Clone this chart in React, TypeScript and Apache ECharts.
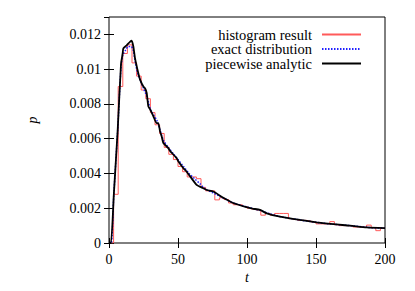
import React, { useEffect, useRef } from "react";
import * as echarts from "echarts";

// Histogram (bin width 10/3 on t in [0,200])
const BIN_WIDTH = 10 / 3;
const histValues = [
  0, 0.0028, 0.009, 0.0109, 0.0114, 0.01036, 0.0096, 0.0088, 0.0083, 0.0075,
  0.0068, 0.0063, 0.0055, 0.0051, 0.0048, 0.0044, 0.0041, 0.0038, 0.0038, 0.0037,
  0.0032, 0.003, 0.003, 0.00248, 0.0026, 0.0025, 0.0023, 0.0022, 0.0022, 0.0021,
  0.002, 0.00195, 0.0019, 0.0016, 0.0017, 0.0016, 0.0017, 0.0017, 0.0017, 0.0014,
  0.00135, 0.0013, 0.0013, 0.00126, 0.0012, 0.0011, 0.0011, 0.0011, 0.00123, 0.00105,
  0.001, 0.001, 0.00098, 0.00092, 0.00092, 0.0009, 0.00103, 0.00088, 0.00071, 0.00085,
];

// Exact distribution
const exactT = [0, 1.5, 3.5, 6.3, 8.7, 10, 12, 14, 16, 17.5, 19, 21, 23, 25, 27.5, 30, 32, 35, 37, 39.5, 43, 47, 50, 54, 58, 62, 66, 70, 75, 80, 85, 90, 100, 110, 115, 125, 138, 150, 162, 175, 187, 200];
const exactP = [0, 0, 0.0028, 0.0065, 0.0101, 0.0108, 0.0111, 0.0113, 0.0113, 0.0111, 0.0104, 0.0097, 0.0093, 0.0089, 0.0084, 0.0077, 0.0074, 0.007, 0.0065, 0.0059, 0.0055, 0.0051, 0.0048, 0.0044, 0.004, 0.0037, 0.0034, 0.0031, 0.0029, 0.0027, 0.0025, 0.0023, 0.00207, 0.00186, 0.00172, 0.0015, 0.00133, 0.00119, 0.00108, 0.001, 0.0009, 0.00085];

// Piecewise analytic
const analyticT = [0, 1.4, 3.5, 6.3, 8.7, 9.9, 10.4, 12.8, 15.2, 16.4, 17.6, 18.8, 21.2, 22.5, 24.9, 26.1, 27.3, 28.5, 29.7, 32.1, 34.5, 35.7, 37, 38.2, 39.4, 43, 44.2, 49, 50.2, 53.9, 56.3, 63.5, 67, 70.8, 75.6, 82.8, 90, 99.8, 104, 109.4, 114.3, 123.9, 138.4, 150.5, 162.5, 174.6, 186.7, 200];
const analyticP = [0, 0, 0.0028, 0.0065, 0.0103, 0.0109, 0.0112, 0.01137, 0.01157, 0.01164, 0.01132, 0.01065, 0.00978, 0.0094, 0.009, 0.0089, 0.00863, 0.00786, 0.0077, 0.0073, 0.0069, 0.0069, 0.00642, 0.00613, 0.00575, 0.00546, 0.0053, 0.00488, 0.0047, 0.0043, 0.0041, 0.00334, 0.0032, 0.00305, 0.00296, 0.0026, 0.0023, 0.00206, 0.00198, 0.0019, 0.00171, 0.00152, 0.00133, 0.00119, 0.00108, 0.001, 0.0009, 0.00085];

const xTicks = { min: 0, max: 200, interval: 50 };
const yTicks = { min: 0, max: 0.013, interval: 0.002 };

const FONT = "'Liberation Serif', 'Times New Roman', serif";

export default function App() {
  const ref = useRef<HTMLDivElement>(null);
  useEffect(() => {
    if (!ref.current) return;
    const chart = echarts.init(ref.current, undefined, { renderer: "svg" });
    const histData: [number, number][] = histValues.map((v, i) => [i * BIN_WIDTH, v]);
    histData.push([histValues.length * BIN_WIDTH, histValues[histValues.length - 1]]);
    const exactData = exactT.map((t, i) => [t, exactP[i]]);
    const analyticData = analyticT.map((t, i) => [t, analyticP[i]]);

    const yFmt = (v: number) => {
      const k = v / yTicks.interval;
      if (Math.abs(k - Math.round(k)) > 1e-6) return "";
      return String(+v.toFixed(4));
    };
    const axisCommon = {
      axisLine: { show: false },
      splitLine: { show: false },
      axisTick: { show: true, inside: true, length: 5, lineStyle: { color: "#000", width: 1 } },
    };
    const legendCommon = {
      orient: "horizontal",
      align: "right",
      right: 48,
      itemWidth: 39,
      itemHeight: 10,
      selectedMode: false,
      itemStyle: { opacity: 0 },
      textStyle: { fontFamily: FONT, fontSize: 14.5, color: "#000", padding: [0, 5, 0, 0] },
    };
    chart.setOption({
      animation: false,
      backgroundColor: "#fff",
      textStyle: { fontFamily: FONT },
      grid: { left: 109, right: 30, top: 17, bottom: 48, show: true, borderColor: "#000", borderWidth: 1, backgroundColor: "transparent" },
      legend: [
        { ...legendCommon, top: 22, data: ["histogram result"] },
        { ...legendCommon, top: 36.5, data: ["exact distribution"] },
        { ...legendCommon, top: 51, data: ["piecewise analytic"] },
      ],
      xAxis: [
        {
          type: "value", ...xTicks, position: "bottom", ...axisCommon,
          axisLabel: { fontFamily: FONT, fontSize: 14, color: "#000", margin: 9 },
          name: "t", nameLocation: "middle", nameGap: 24,
          nameTextStyle: { fontFamily: FONT, fontSize: 14, fontStyle: "italic", color: "#000" },
        },
        { type: "value", ...xTicks, position: "top", ...axisCommon, axisLabel: { show: false } },
      ],
      yAxis: [
        {
          type: "value", ...yTicks, position: "left", ...axisCommon,
          axisLabel: { fontFamily: FONT, fontSize: 14, color: "#000", margin: 8, formatter: yFmt, showMaxLabel: false },
        },
        { type: "value", ...yTicks, position: "right", ...axisCommon, axisLabel: { show: false } },
      ],
      graphic: [
        {
          type: "text", x: 32, y: 120, rotation: Math.PI / 2,
          style: { text: "p", fontFamily: FONT, fontSize: 14, fontStyle: "italic", fill: "#000", align: "center", verticalAlign: "middle" },
        },
      ],
      series: [
        {
          name: "histogram result", type: "line", data: histData, step: "end",
          symbol: "none", lineStyle: { color: "#ff5a5a", width: 1 }, itemStyle: { color: "#ff5a5a" }, z: 2,
        },
        {
          name: "exact distribution", type: "line", data: exactData, smooth: 0.3,
          symbol: "none", lineStyle: { color: "#2020ff", width: 1.5, type: [1.5, 1.5] }, itemStyle: { color: "#2020ff" }, z: 3,
        },
        {
          name: "piecewise analytic", type: "line", data: analyticData, smooth: 0.2,
          symbol: "none", lineStyle: { color: "#000", width: 1.8 }, itemStyle: { color: "#000" }, z: 4,
        },
      ],
    });
    return () => chart.dispose();
  }, []);
  return <div ref={ref} style={{ position: "fixed", left: 0, top: 0, width: 415, height: 291 }} />;
}
